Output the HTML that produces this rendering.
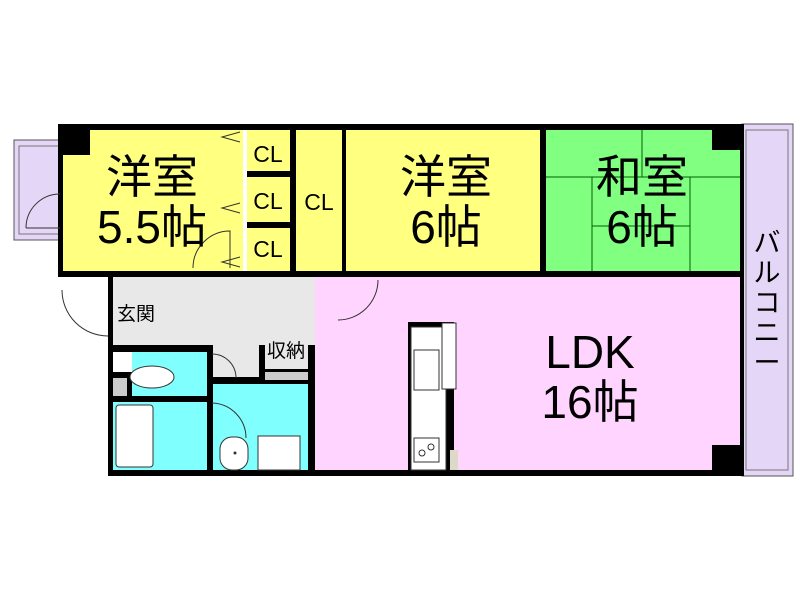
<!DOCTYPE html>
<html><head><meta charset="utf-8"><style>
body{margin:0;background:#fff;width:800px;height:600px;overflow:hidden}
svg{display:block}
text{font-family:"Liberation Sans","Noto Sans CJK JP",sans-serif;fill:#000}
</style></head><body>
<svg width="800" height="600" viewBox="0 0 800 600">
<rect x="14" y="140" width="46" height="100" fill="#e4d6f6" stroke="#555" stroke-width="1"/>
<rect x="19" y="146" width="40" height="88" fill="none" stroke="#777" stroke-width="1"/>
<rect x="742" y="124" width="51" height="352" fill="#e4d6f6" stroke="#555" stroke-width="1"/>
<rect x="746" y="130" width="42" height="340" fill="none" stroke="#777" stroke-width="1"/>
<rect x="58" y="124" width="686" height="153" fill="#000"/>
<rect x="63" y="130" width="180" height="141" fill="#ffff80"/>
<rect x="247" y="130" width="43" height="41" fill="#ffff80"/>
<rect x="247" y="177" width="43" height="45" fill="#ffff80"/>
<rect x="247" y="228" width="43" height="43" fill="#ffff80"/>
<rect x="243" y="130" width="4" height="141" fill="#fff"/>
<rect x="296" y="130" width="46" height="141" fill="#ffff80"/>
<rect x="346" y="130" width="194" height="141" fill="#ffff80"/>
<rect x="546" y="130" width="194" height="141" fill="#80ff80"/>
<rect x="63" y="130" width="27" height="25" fill="#000"/>
<rect x="712" y="130" width="28" height="20" fill="#000"/>
<g stroke="#006000" stroke-width="1">
<line x1="642" y1="130" x2="642" y2="177"/><line x1="546" y1="177" x2="740" y2="177"/>
<line x1="592" y1="177" x2="592" y2="271"/><line x1="690" y1="177" x2="690" y2="271"/>
<line x1="592" y1="226" x2="690" y2="226"/>
</g>
<rect x="108" y="277" width="636" height="199" fill="#000"/>
<rect x="113" y="277" width="223" height="68" fill="#e8e8e8"/>
<rect x="213" y="277" width="46" height="100" fill="#e8e8e8"/>
<rect x="315" y="277" width="425" height="193" fill="#ffd5ff"/>
<rect x="265" y="325" width="43" height="44" fill="#e8e8e8"/>
<rect x="265" y="372" width="43" height="8" fill="#ccc"/>
<rect x="132" y="352" width="75" height="44" fill="#80ffff"/>
<rect x="113" y="352" width="19" height="20" fill="#fff"/>
<rect x="113" y="378" width="14" height="18" fill="#ccc"/>
<rect x="113" y="402" width="94" height="68" fill="#80ffff"/>
<rect x="116" y="405" width="37" height="62" rx="3" fill="#fff" stroke="#333"/>
<rect x="213" y="384" width="95" height="86" fill="#80ffff"/>
<rect x="258" y="436" width="42" height="34" fill="#fff" stroke="#333"/>
<rect x="220" y="437" width="28" height="33" rx="12" fill="#fff" stroke="#333"/>
<circle cx="235" cy="453" r="1.5" fill="#333"/>
<ellipse cx="152" cy="377" rx="22" ry="11" fill="#fff" stroke="#333"/>
<rect x="712" y="445" width="28" height="25" fill="#000"/>
<rect x="408" y="322" width="46" height="148" fill="#000"/>
<rect x="411" y="327" width="35" height="143" fill="#fff" stroke="#333"/>
<rect x="442" y="323" width="14" height="66" fill="#fff" stroke="#333"/>
<rect x="414" y="350" width="25" height="40" fill="#fff" stroke="#333"/>
<rect x="414" y="438" width="25" height="24" fill="#fff" stroke="#333"/>
<circle cx="422" cy="453" r="3" fill="none" stroke="#333"/><circle cx="431" cy="447" r="3" fill="none" stroke="#333"/>
<rect x="450" y="450" width="8" height="20" fill="#ddd8c8"/>
<g fill="none" stroke="#333" stroke-width="1">
<path d="M26 228 A34 34 0 0 1 60 194 M26 228 L60 228"/>
<path d="M62 290 A46 46 0 0 0 108 336"/>
<path d="M193 268 A37 37 0 0 1 230 231 L230 268"/>
<path d="M378 280 A40 40 0 0 1 338 320"/>
<path d="M212 354 A24 24 0 0 1 236 378"/>
<path d="M212 403 A35 35 0 0 1 246 438"/>
<path d="M240 132 L222 137 L240 142 M240 203 L222 208 L240 213 M240 257 L222 262 L240 267"/>
</g>
<g text-anchor="middle">
<text x="152" y="193" font-size="46">洋室</text>
<text x="152" y="243" font-size="46">5.5帖</text>
<text x="446" y="193" font-size="46">洋室</text>
<text x="446" y="243" font-size="46">6帖</text>
<text x="642" y="193" font-size="46">和室</text>
<text x="642" y="243" font-size="46">6帖</text>
<text x="590" y="368" font-size="46">LDK</text>
<text x="590" y="418" font-size="46">16帖</text>
<text x="268" y="162" font-size="23">CL</text>
<text x="268" y="209" font-size="23">CL</text>
<text x="268" y="257" font-size="23">CL</text>
<text x="319" y="210" font-size="23">CL</text>
<text x="136" y="320" font-size="19">玄関</text>
<text x="286" y="357" font-size="19">収納</text>
<text x="767" y="252" font-size="27">バ</text>
<text x="767" y="282" font-size="27">ル</text>
<text x="767" y="312" font-size="27">コ</text>
<text x="767" y="342" font-size="27">ニ</text>
<text x="767" y="372" font-size="27">ー</text>
</g>
</svg>
</body></html>
